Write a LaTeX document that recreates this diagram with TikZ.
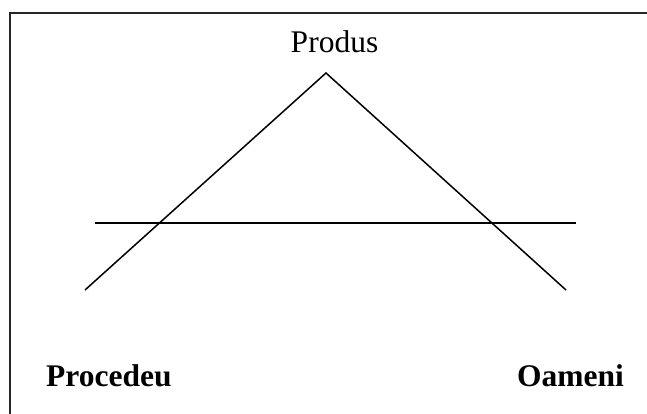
\documentclass[tikz,border=0pt]{standalone}
\usepackage{fontspec}
\setmainfont{Liberation Serif}
\begin{document}
\begin{tikzpicture}[x=1pt,y=-1pt,
  lbl/.style={inner sep=0pt, font=\fontsize{31.5}{36}\selectfont},
  bl/.style={inner sep=0pt, font=\fontsize{31.5}{36}\selectfont\bfseries},
  ln/.style={line width=1.5pt, black}]
\useasboundingbox (0,0) rectangle (647,414);
\clip (0,0) rectangle (647,414);
\draw[line width=2.2pt, black!85] (10,13) rectangle (660,430);
\coordinate (apex) at (326,73);
\coordinate (lend) at (85,290);
\coordinate (rend) at (566,290);
\coordinate (hl) at (95,223);
\coordinate (hr) at (576,223);
\draw[ln] (lend) -- (apex) -- (rend);
\draw[ln] (hl) -- (hr);
\node[lbl, anchor=base] (produs) at (334.5,53) {Produs};
\node[bl, anchor=base west] (procedeu) at (46,386) {Procedeu};
\node[bl, anchor=base east] (oameni) at (624,386) {Oameni};
\end{tikzpicture}
\end{document}
